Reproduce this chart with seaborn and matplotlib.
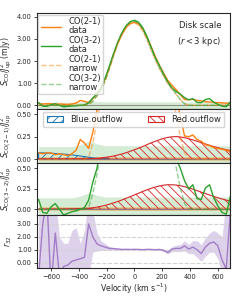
import numpy as np
import pandas as pd
import matplotlib
matplotlib.use("Agg")
import matplotlib.pyplot as plt
import seaborn as sns

# ---------------- data ----------------
velocity = [-690, -660, -630, -600, -570, -540, -510, -480, -450, -420, -390, -360,
            -330, -300, -270, -240, -210, -180, -150, -120, -90, -60, -30, 0,
            30, 60, 90, 120, 150, 180, 210, 240, 270, 300, 330, 360, 390, 420,
            450, 480, 510, 540, 570, 600, 630, 660, 690]

co21_data = [0.07, 0.06, 0.07, 0.07, 0.05, 0.06, 0.05, 0.04, 0.06, 0.10, 0.22, 0.18,
             0.12, 0.30, 0.55, 0.80, 1.20, 1.72, 2.30, 2.80, 3.20, 3.52, 3.70, 3.75,
             3.68, 3.45, 3.08, 2.65, 2.20, 1.80, 1.45, 1.12, 0.90, 0.70, 0.48, 0.26,
             0.25, 0.27, 0.22, 0.20, 0.16, 0.15, 0.13, 0.12, 0.11, 0.10, 0.08]

co32_data = [0.12, -0.04, -0.05, 0.03, 0.07, 0.00, -0.07, -0.05, -0.03, -0.02, 0.00, 0.02,
             0.11, 0.33, 0.50, 0.80, 1.25, 1.78, 2.35, 2.85, 3.28, 3.60, 3.78, 3.84,
             3.75, 3.50, 3.10, 2.62, 2.15, 1.78, 1.40, 1.05, 0.78, 0.62, 0.50, 0.35,
             0.25, 0.30, 0.13, 0.12, 0.26, 0.30, 0.14, 0.04, -0.04, -0.06, 0.16]

co21_narrow = [0, 0, 0, 0, 0, 0, 0, 0, 0, 0, 0, 0.0,
               0.02, 0.18, 0.42, 0.68, 1.10, 1.65, 2.25, 2.80, 3.22, 3.52, 3.68, 3.72,
               3.62, 3.35, 2.95, 2.48, 2.05, 1.65, 1.30, 0.98, 0.72, 0.50, 0.25, 0.07,
               0.01, 0, 0, 0, 0, 0, 0, 0, 0, 0, 0]

co32_narrow = [0, 0, 0, 0, 0, 0, 0, 0, 0, 0, 0, 0.0,
               0.02, 0.19, 0.43, 0.70, 1.13, 1.69, 2.30, 2.86, 3.29, 3.60, 3.76, 3.80,
               3.70, 3.42, 3.01, 2.53, 2.09, 1.68, 1.33, 1.00, 0.74, 0.51, 0.26, 0.07,
               0.01, 0, 0, 0, 0, 0, 0, 0, 0, 0, 0]

noise21 = [0.025] * 47
noise32 = [0.14, 0.14, 0.14, 0.14, 0.14, 0.14, 0.14, 0.14, 0.14, 0.15, 0.16, 0.18,
           0.20, 0.19, 0.17, 0.16, 0.15, 0.15, 0.15, 0.15, 0.15, 0.15, 0.15, 0.15,
           0.15, 0.15, 0.15, 0.15, 0.15, 0.15, 0.15, 0.15, 0.15, 0.15, 0.15, 0.15,
           0.15, 0.15, 0.15, 0.15, 0.15, 0.15, 0.15, 0.15, 0.15, 0.15, 0.15]

blue21 = [0.070, 0.070, 0.068, 0.066, 0.063, 0.060, 0.056, 0.052, 0.047, 0.041, 0.035, 0.028,
          0.021, 0.014, 0.008, 0.004, 0.002, 0, 0, 0, 0, 0, 0, 0,
          0, 0, 0, 0, 0, 0, 0, 0, 0, 0, 0, 0, 0, 0, 0, 0, 0, 0, 0, 0, 0, 0, 0]

red21 = [0, 0, 0, 0, 0, 0, 0, 0, 0.001, 0.001, 0.002, 0.003,
         0.005, 0.007, 0.010, 0.014, 0.020, 0.027, 0.035, 0.046, 0.058, 0.072, 0.088, 0.105,
         0.123, 0.142, 0.162, 0.182, 0.200, 0.217, 0.232, 0.243, 0.250, 0.252, 0.248, 0.240,
         0.228, 0.215, 0.200, 0.185, 0.170, 0.155, 0.140, 0.128, 0.116, 0.106, 0.097]

red32 = [0, 0, 0, 0, 0, 0, 0.001, 0.002, 0.003, 0.004, 0.006, 0.008,
         0.012, 0.018, 0.026, 0.036, 0.048, 0.062, 0.078, 0.095, 0.114, 0.134, 0.155, 0.176,
         0.197, 0.218, 0.238, 0.256, 0.272, 0.285, 0.295, 0.300, 0.300, 0.296, 0.288, 0.276,
         0.262, 0.246, 0.228, 0.210, 0.192, 0.174, 0.157, 0.141, 0.126, 0.112, 0.100]

r32 = [-1.0, 3.0, 5.0, -2.0, 2.3, -1.0, -0.3, -0.2, 0.1, 0.2, 0.3, 0.4,
       3.0, 2.0, 1.45, 1.30, 1.20, 1.10, 1.08, 1.05, 1.02, 1.03, 1.02, 1.03,
       1.02, 1.00, 1.03, 1.02, 1.00, 1.02, 0.95, 0.78, 1.05, 1.10, 1.10, 1.30,
       1.05, 1.20, 1.00, 0.70, 1.20, 1.50, 1.60, 1.30, 0.20, -0.5, 4.0]
r32_lo = [-1, -1, -1, -1, -1, -1, -1, -1, -1, -1, -1, -1,
          -1, 0.8, 0.9, 0.95, 0.95, 0.95, 0.98, 0.97, 0.96, 0.97, 0.97, 0.98,
          0.97, 0.95, 0.97, 0.96, 0.94, 0.95, 0.85, 0.65, 0.85, 0.85, 0.85, 0.90,
          0.70, 0.70, 0.40, 0.10, 0.50, 0.80, 0.80, 0.30, -1, -1, -1]
r32_hi = [5, 5, 5, 5, 5, 2.0, 1.5, 1.5, 2.5, 2.7, 1.5, 2.5,
          5, 4.0, 2.3, 1.7, 1.45, 1.25, 1.18, 1.13, 1.08, 1.09, 1.07, 1.08,
          1.07, 1.05, 1.09, 1.08, 1.06, 1.10, 1.05, 0.95, 1.25, 1.35, 1.40, 1.70,
          1.40, 1.70, 1.70, 1.40, 1.90, 2.30, 2.50, 2.30, 2.0, 5, 5]

df = pd.DataFrame({"v": velocity, "co21": co21_data, "co32": co32_data,
                   "n21": co21_narrow, "n32": co32_narrow})
v = np.array(velocity, dtype=float)

# ---------------- style ----------------
sns.set_style("ticks")
plt.rcParams["font.family"] = ["DejaVu Sans"]
plt.rcParams["hatch.linewidth"] = 0.6
plt.rcParams["axes.linewidth"] = 0.8
plt.rcParams["xtick.major.width"] = 0.6
plt.rcParams["ytick.major.width"] = 0.6
plt.rcParams["xtick.major.size"] = 2.5
plt.rcParams["ytick.major.size"] = 2.5

C21 = "#ff7f0e"
C32 = "#2ca02c"
CB = "#1f77b4"
CR = "#d62728"
CP = "#9467bd"
TICK_FS = 4.8
LAB_FS = 5.6

fig = plt.figure(figsize=(2.4, 2.99), dpi=100)
gs = fig.add_gridspec(4, 1, height_ratios=[95.7, 53.7, 52.3, 53.3], hspace=0,
                      left=0.155, right=0.96, top=0.955, bottom=0.103)
axes = [fig.add_subplot(gs[i]) for i in range(4)]
for a in axes[1:]:
    a.sharex(axes[0])

XLIM = (-700, 690)

def bands(ax):
    ax.fill_between(v, -np.array(noise32), noise32, color=C32, alpha=0.2, lw=0)
    ax.fill_between(v, -np.array(noise21), noise21, color=C21, alpha=0.3, lw=0)
    ax.axhline(0, color="gray", lw=0.8, alpha=0.8)

# ---- panel 1 ----
ax = axes[0]
bands(ax)
sns.lineplot(data=df, x="v", y="co21", ax=ax, color=C21, lw=1.0, label="CO(2-1)\ndata")
sns.lineplot(data=df, x="v", y="co32", ax=ax, color=C32, lw=1.0, label="CO(3-2)\ndata")
sns.lineplot(data=df, x="v", y="n21", ax=ax, color=C21, lw=1.0, ls="--", alpha=0.5,
             label="CO(2-1)\nnarrow")
sns.lineplot(data=df, x="v", y="n32", ax=ax, color=C32, lw=1.0, ls="--", alpha=0.5,
             label="CO(3-2)\nnarrow")
ax.set_ylim(-0.17, 4.15)
ax.set_yticks([0, 1, 2, 3, 4])
ax.set_yticklabels(["0.00", "1.00", "2.00", "3.00", "4.00"])
ax.set_ylabel(r"$S_{\rm CO}/J_{\rm up}^2$ (mJy)", fontsize=LAB_FS, labelpad=2)
leg = ax.legend(loc="upper left", fontsize=6, handlelength=2.5, labelspacing=0.08,
                borderaxespad=0.15, borderpad=0.25, handletextpad=0.8, framealpha=0.8)
for t in leg.get_texts():
    t.set_linespacing(1.05)
ax.text(0.955, 0.92, "Disk scale\n($r < 3$ kpc)", transform=ax.transAxes,
        ha="right", va="top", fontsize=6, linespacing=1.5)

# ---- panel 2 ----
ax = axes[1]
bands(ax)
mask_b = v <= -180
ax.fill_between(v[mask_b], 0, np.array(blue21)[mask_b], facecolor="none", edgecolor=CB,
                hatch="////", lw=0.8, label="Blue.outflow")
ax.fill_between(v, 0, red21, facecolor="none", edgecolor=CR, hatch="\\\\\\\\", lw=0.8,
                label="Red.outflow")
sns.lineplot(data=df, x="v", y="co21", ax=ax, color=C21, lw=1.0, legend=False)
sns.lineplot(data=df, x="v", y="n21", ax=ax, color=C21, lw=1.0, ls="--", alpha=0.5,
             legend=False)
ax.set_ylim(-0.04, 0.56)
ax.set_yticks([0, 0.25, 0.5])
ax.set_yticklabels(["0.00", "0.25", "0.50"])
ax.set_ylabel(r"$S_{\rm CO(2-1)}/J_{\rm up}^2$", fontsize=LAB_FS, labelpad=2)
ax.legend(loc="upper center", ncol=2, fontsize=6, handlelength=2.0,
          borderaxespad=0.3, columnspacing=3.0, framealpha=0.8)

# ---- panel 3 ----
ax = axes[2]
bands(ax)
ax.fill_between(v, 0, red32, facecolor="none", edgecolor=CR, hatch="\\\\\\\\", lw=0.8)
sns.lineplot(data=df, x="v", y="co32", ax=ax, color=C32, lw=1.0, legend=False)
sns.lineplot(data=df, x="v", y="n32", ax=ax, color=C32, lw=1.0, ls="--", alpha=0.5,
             legend=False)
ax.set_ylim(-0.07, 0.57)
ax.set_yticks([0, 0.25, 0.5])
ax.set_yticklabels(["0.00", "0.25", "0.50"])
ax.set_ylabel(r"$S_{\rm CO(3-2)}/J_{\rm up}^2$", fontsize=LAB_FS, labelpad=2)

# ---- panel 4 ----
ax = axes[3]
for yy in [0, 1, 2, 3]:
    ax.axhline(yy, color="lightgray", ls="--", lw=0.8)
ax.fill_between(v, r32_lo, r32_hi, color=CP, alpha=0.3, lw=0)
sns.lineplot(x=v, y=r32, ax=ax, color=CP, lw=1.0, alpha=0.8)
ax.set_ylim(-0.44, 3.7)
ax.set_yticks([0, 1, 2, 3])
ax.set_yticklabels(["0.00", "1.00", "2.00", "3.00"])
ax.set_ylabel(r"$r_{32}$", fontsize=LAB_FS, labelpad=2)
ax.set_xlabel(r"Velocity (km s$^{-1}$)", fontsize=LAB_FS, labelpad=1.5)

for i, a in enumerate(axes):
    a.set_xlim(*XLIM)
    a.set_xticks([-600, -400, -200, 0, 200, 400, 600])
    a.tick_params(labelsize=TICK_FS, pad=1.5)
    for s in a.spines.values():
        s.set_visible(True)
    if i < 3:
        a.tick_params(labelbottom=False)
        a.set_xlabel("")

fig.align_ylabels(axes)
fig.savefig("out.png", dpi=100)
